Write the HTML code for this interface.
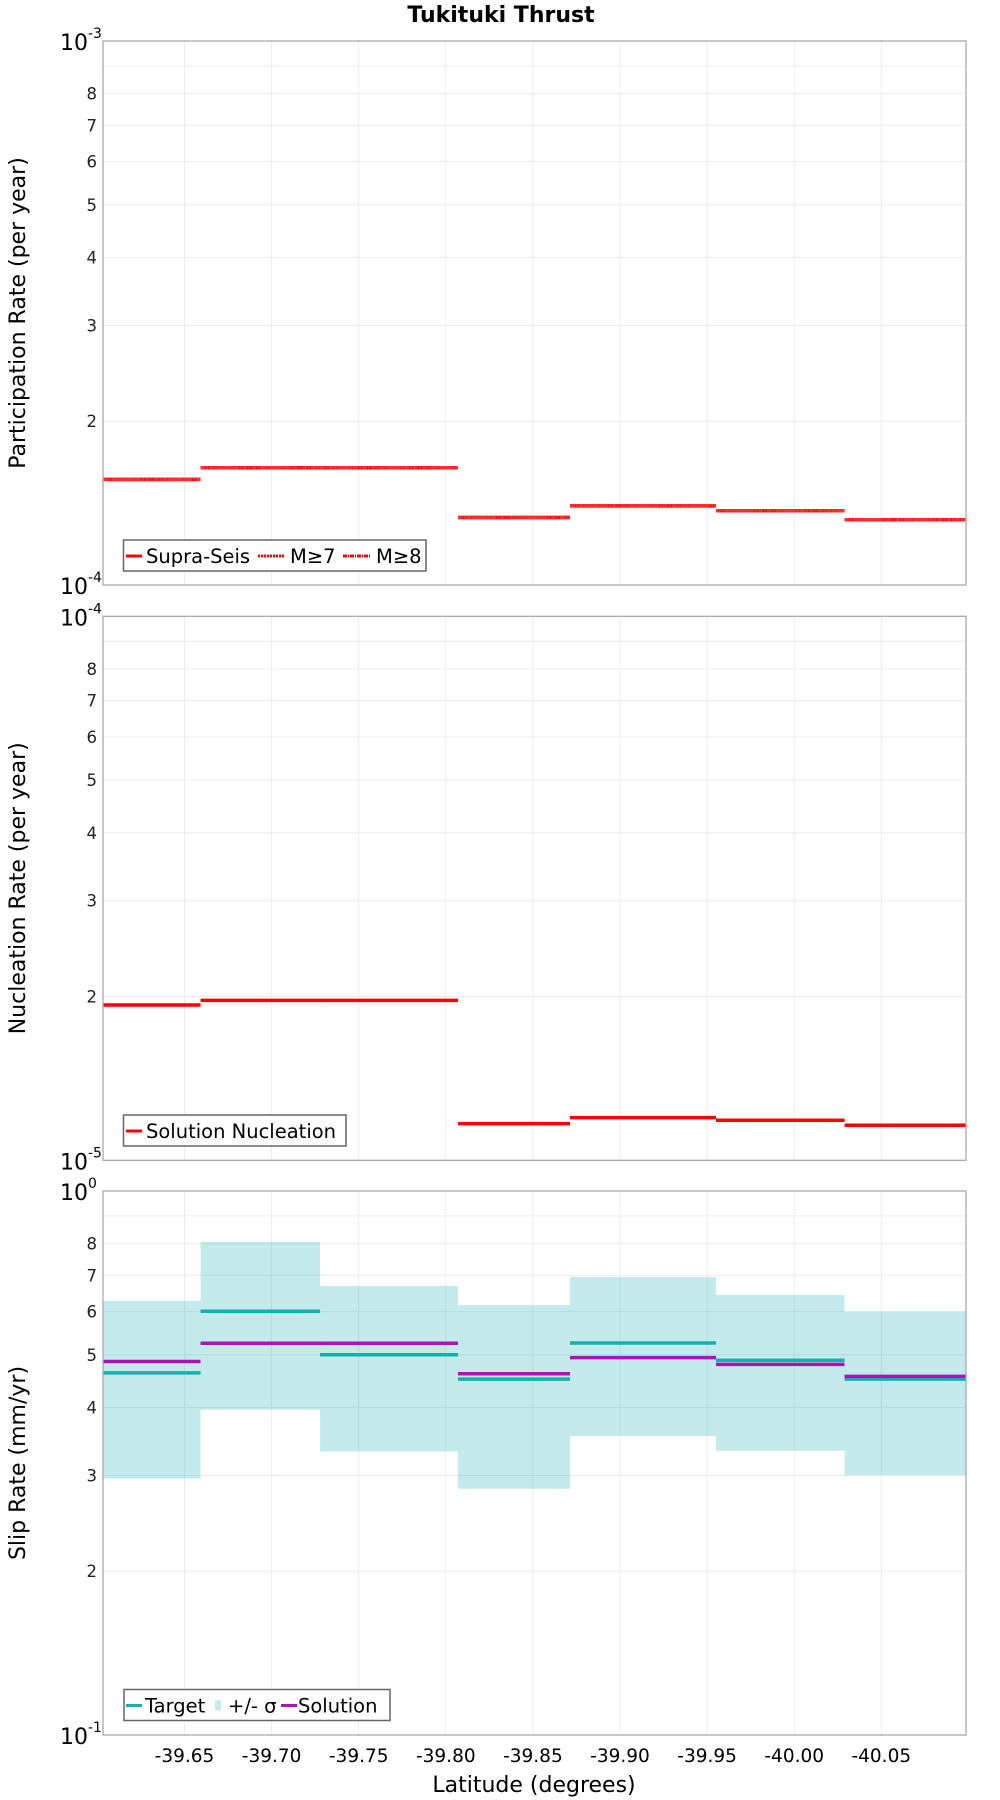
<!DOCTYPE html>
<html><head><meta charset="utf-8"><title>Tukituki Thrust</title>
<style>
html,body{margin:0;padding:0;background:#fff;}
svg{display:block;font-family:"DejaVu Sans","Liberation Sans",sans-serif;}
</style></head>
<body>
<svg id="chart" width="1000" height="1800" viewBox="0 0 1000 1800" xmlns="http://www.w3.org/2000/svg">
<text x="501" y="22" text-anchor="middle" font-size="22" font-weight="bold">Tukituki Thrust</text>
<text x="534" y="1792" text-anchor="middle" font-size="22">Latitude (degrees)</text>
</svg>
<script>
// Segment boundaries (latitude)
const segEdges = [-39.6032, -39.6592, -39.7278, -39.8070, -39.8713, -39.9551, -40.0289, -40.0986];
const xTicks = [-39.65, -39.70, -39.75, -39.80, -39.85, -39.90, -39.95, -40.00, -40.05];
const xTickLabels = ["-39.65","-39.70","-39.75","-39.80","-39.85","-39.90","-39.95","-40.00","-40.05"];
// Participation rate (per year)
const partSupra = [1.564e-4, 1.643e-4, 1.643e-4, 1.331e-4, 1.398e-4, 1.369e-4, 1.318e-4];
const partM7 = [1.564e-4, 1.643e-4, 1.643e-4, 1.331e-4, 1.398e-4, 1.369e-4, 1.318e-4];
const partM8 = [1.564e-4, 1.643e-4, 1.643e-4, 1.331e-4, 1.398e-4, 1.369e-4, 1.318e-4];
// Nucleation rate
const nuclSolution = [1.930e-5, 1.968e-5, 1.968e-5, 1.168e-5, 1.198e-5, 1.185e-5, 1.160e-5];
// Slip rate (plotted on 0.1-1 decade)
const slipTarget = [0.463, 0.601, 0.500, 0.451, 0.5255, 0.4885, 0.451];
const slipUpper = [0.628, 0.806, 0.669, 0.617, 0.695, 0.644, 0.600];
const slipLower = [0.296, 0.396, 0.332, 0.2836, 0.3545, 0.333, 0.3005];
const slipSolution = [0.486, 0.525, 0.525, 0.4614, 0.494, 0.480, 0.4564];
const minorTickLabels = ["2","3","4","5","6","7","8"];

const NS = "http://www.w3.org/2000/svg";
const svg = document.getElementById("chart");
const PL = 103, PR = 966, PH = 544;
function xScale(lat){ return 184.5 + (-39.65 - lat) / 0.05 * 87.1; }
function mk(tag, attrs, parent){
  const e = document.createElementNS(NS, tag);
  for (const k in attrs) e.setAttribute(k, attrs[k]);
  (parent || svg).appendChild(e);
  return e;
}

function panel(top, minExp, name, ytitle){
  const g = mk("g", {});
  
  
  const yS = v => top + PH * (1 - (Math.log10(v) - minExp));
  for (let i = 0; i < xTicks.length; i++){
    const gl = mk("line", {x1: xScale(xTicks[i]), x2: xScale(xTicks[i]), y1: top, y2: top + PH, stroke: "#ececec", "stroke-width": 1}, g);
    
    
  }
  for (let m = 2; m <= 9; m++){
    const y = yS(m * Math.pow(10, minExp));
    const gl = mk("line", {x1: PL, x2: PR, y1: y, y2: y, stroke: "#ececec", "stroke-width": 1}, g);
    
    
    if (m <= 8){
      const t = mk("text", {x: 97, y: y + 6, "text-anchor": "end", "font-size": 16.5, fill: "#222"}, g);
      
      
      t.textContent = minorTickLabels[m - 2];
    }
  }
  [[top, minExp + 1], [top + PH, minExp]].forEach(([y, e]) => {
    const t = mk("text", {x: 60, y: y + 9, "font-size": 22}, g);
    
    
    t.textContent = "10";
    const s = mk("tspan", {dy: -12, "font-size": 14}, t);
    s.textContent = String(e);
  });
  const yt = mk("text", {x: 0, y: 0, transform: `translate(25,${top + PH / 2}) rotate(-90)`, "text-anchor": "middle", "font-size": 22}, g);
  
  
  yt.textContent = ytitle;
  return {g, yS};
}

function steps(g, yS, vals, color, name, dash){
  for (let i = 0; i < vals.length; i++){
    const y = yS(vals[i]);
    const a = {x1: xScale(segEdges[i]), x2: xScale(segEdges[i + 1]), y1: y, y2: y, stroke: color, "stroke-width": 3.5};
    if (dash) a["stroke-dasharray"] = dash;
    const l = mk("line", a, g);
    
    
  }
}
function frame(g, top){
  const r = mk("rect", {x: PL, y: top, width: PR - PL, height: PH, fill: "none", stroke: "#aaa", "stroke-width": 1.3}, g);
  
  
}
function legend(g, x, y, w, items){
  const box = mk("rect", {x: x, y: y, width: w, height: 31, fill: "#fff", stroke: "#666", "stroke-width": 1.5}, g);
  
  
  items.forEach(it => {
    if (it.band){
      const r = mk("rect", {x: it.x, y: y + 11, width: 6, height: 10, fill: "#c3ebeb"}, g);
      
      
    } else {
      const a = {x1: it.x, x2: it.x + (it.len || 16), y1: y + 16, y2: y + 16, stroke: it.color, "stroke-width": 3};
      if (it.dash) a["stroke-dasharray"] = it.dash;
      const l = mk("line", a, g);
      
      
    }
    const t = mk("text", {x: it.tx, y: y + 23, "font-size": 19.5}, g);
    
    
    t.textContent = it.label;
  });
}

const p1 = panel(41, -4, "participation-panel", "Participation Rate (per year)");
steps(p1.g, p1.yS, partSupra, "#ff0000", "supra-seis-step");
steps(p1.g, p1.yS, partM7, "#ff3030", "m7-step", "1.5,1.5");
steps(p1.g, p1.yS, partM8, "#ff3030", "m8-step", "4,1.5,1.5,1.5");
frame(p1.g, 41);
legend(p1.g, 123.5, 540, 302.5, [
  {x: 126, tx: 146, color: "#ff0000", label: "Supra-Seis"},
  {x: 258, len: 27, tx: 290, color: "#ff0000", dash: "2,1", label: "M≥7"},
  {x: 343, len: 28, tx: 376, color: "#ff0000", dash: "4,1,1,1", label: "M≥8"}
]);

const p2 = panel(616.3, -5, "nucleation-panel", "Nucleation Rate (per year)");
steps(p2.g, p2.yS, nuclSolution, "#ff0000", "nucleation-step");
frame(p2.g, 616.3);
legend(p2.g, 123.5, 1115, 222.5, [
  {x: 126, tx: 146, color: "#ff0000", label: "Solution Nucleation"}
]);

const p3 = panel(1191, -1, "slip-rate-panel", "Slip Rate (mm/yr)");
for (let i = 0; i < slipUpper.length; i++){
  const yt = p3.yS(slipUpper[i]), yb = p3.yS(slipLower[i]);
  const r = mk("rect", {x: xScale(segEdges[i]), y: yt, width: xScale(segEdges[i + 1]) - xScale(segEdges[i]), height: yb - yt, fill: "#00a8a8", "fill-opacity": 0.23}, p3.g);
  
  
}
steps(p3.g, p3.yS, slipTarget, "#14b0b0", "target-step");
steps(p3.g, p3.yS, slipSolution, "#b010b8", "solution-step");
frame(p3.g, 1191);
legend(p3.g, 124, 1689.5, 266, [
  {x: 126, tx: 145, color: "#14b0b0", label: "Target"},
  {x: 215, tx: 228, band: true, label: "+/- σ"},
  {x: 281, tx: 298, color: "#b010b8", label: "Solution"}
]);

for (let i = 0; i < xTicks.length; i++){
  const t = mk("text", {x: xScale(xTicks[i]), y: 1762, "text-anchor": "middle", "font-size": 18.5});
  
  
  t.textContent = xTickLabels[i];
}
</script>
</body></html>
